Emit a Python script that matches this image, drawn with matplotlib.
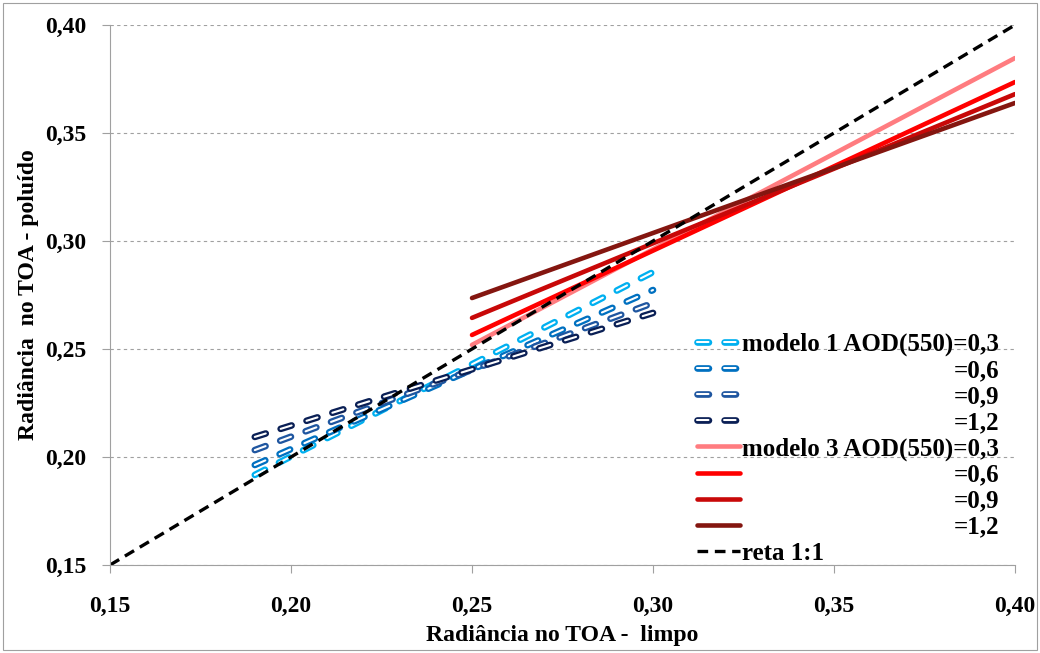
import matplotlib
matplotlib.use("Agg")
import matplotlib.pyplot as plt
import matplotlib.patheffects as pe
from matplotlib.transforms import Affine2D
from matplotlib.patches import Rectangle

# data: (x_start, x_end) and (y_start, y_end)
m1_x = [0.19, 0.30]
m1_y03 = [0.1917, 0.2856]
m1_y06 = [0.1963, 0.2773]
m1_y09 = [0.2032, 0.2713]
m1_y12 = [0.2093, 0.2667]

m3_x = [0.25, 0.40]
m3_y03 = [0.2519, 0.3847]
m3_y06 = [0.2565, 0.3736]
m3_y09 = [0.2644, 0.3680]
m3_y12 = [0.2736, 0.3639]

ref_x = [0.15, 0.40]
ref_y = [0.15, 0.40]

ticks = [0.15, 0.20, 0.25, 0.30, 0.35, 0.40]
tick_labels = ["0,15", "0,20", "0,25", "0,30", "0,35", "0,40"]

labels = ["modelo 1 AOD(550)=0,3", "=0,6", "=0,9", "=1,2",
          "modelo 3 AOD(550)=0,3", "=0,6", "=0,9", "=1,2", "reta 1:1"]

plt.rcParams['font.family'] = ['Liberation Serif', 'DejaVu Serif']
plt.rcParams['font.weight'] = 'bold'
plt.rcParams['axes.labelweight'] = 'bold'

fig = plt.figure(figsize=(10.4, 6.53), dpi=100)
ax = fig.add_axes([110/1040, 1 - 565/653, 905/1040, 540/653])
fig.patches.append(Rectangle((0.003, 0.004), 0.994, 0.992, transform=fig.transFigure,
                             fill=False, edgecolor='#A0A0A0', linewidth=0.8))

def hollow(x, y, col, lab):
    ax.plot(x, y, color='white', linewidth=1.5, linestyle=(0, (5.5, 7.5)),
            dash_capstyle='round', solid_capstyle='round', label=lab,
            path_effects=[pe.Stroke(linewidth=4.8, foreground=col, capstyle='round'), pe.Normal()])

hollow(m1_x, m1_y03, '#00B0F0', labels[0])
hollow(m1_x, m1_y06, '#0070C0', labels[1])
hollow(m1_x, m1_y09, '#1F56A0', labels[2])
hollow(m1_x, m1_y12, '#0A1F55', labels[3])

ax.plot(m3_x, m3_y03, color='#FF7C80', linewidth=3.3, label=labels[4], solid_capstyle='round')
ax.plot(m3_x, m3_y06, color='#FF0000', linewidth=3.3, label=labels[5], solid_capstyle='round')
ax.plot(m3_x, m3_y09, color='#C80808', linewidth=3.3, label=labels[6], solid_capstyle='round')
ax.plot(m3_x, m3_y12, color='#841610', linewidth=3.3, label=labels[7], solid_capstyle='round')

ax.plot(ref_x, ref_y, color='black', linewidth=2.4, linestyle=(0, (3.2, 2.0)), label=labels[8])

ax.set_xlim(0.15, 0.40)
ax.set_ylim(0.15, 0.40)
ax.set_xticks(ticks)
ax.set_xticklabels(tick_labels)
ax.set_yticks(ticks)
ax.set_yticklabels(tick_labels)
ax.tick_params(axis='both', labelsize=17, color='#A0A0A0', length=6, width=0.8)
ax.tick_params(axis='x', pad=16)
ax.tick_params(axis='y', pad=11)
ax.grid(axis='y', color='#A0A0A0', linestyle=(0, (3, 3)), linewidth=0.8)
ax.set_axisbelow(True)
for s in ['top', 'right']:
    ax.spines[s].set_visible(False)
for s in ['left', 'bottom']:
    ax.spines[s].set_color('#A0A0A0')
    ax.spines[s].set_linewidth(0.8)

ax.set_xlabel("Radiância no TOA -  limpo", fontsize=17, labelpad=6)
ax.set_ylabel("Radiância  no TOA - poluído", fontsize=17, labelpad=4)

leg = ax.legend(loc='upper left', bbox_to_anchor=(0.649, 0.43), frameon=False,
                prop={'weight': 'bold', 'size': 18}, handlelength=1.7,
                handletextpad=0.1, labelspacing=0.12, borderpad=0, borderaxespad=0)

# right-align the short labels under the long ones
fig.canvas.draw()
r = fig.canvas.get_renderer()
texts = leg.get_texts()
right = max(t.get_window_extent(r).x1 for t in texts)
for t in texts:
    if t.get_text().startswith("="):
        dx = right - t.get_window_extent(r).x1
        t.set_transform(t.get_transform() + Affine2D().translate(dx, 0))

fig.savefig("out.png", dpi=100)
